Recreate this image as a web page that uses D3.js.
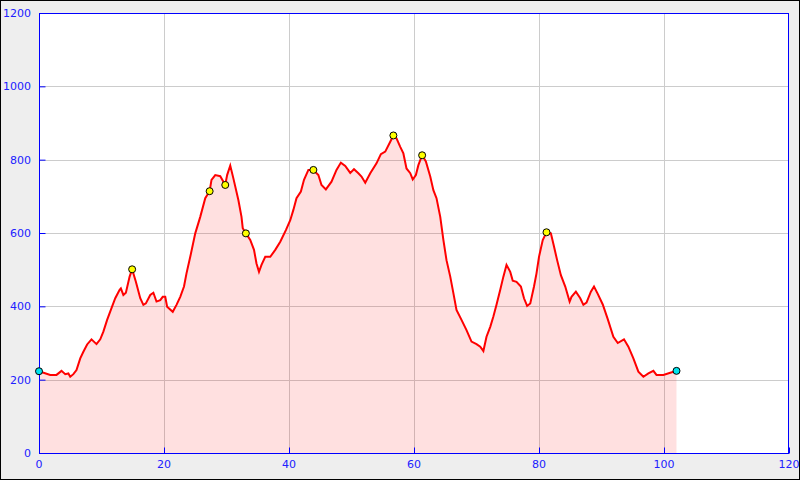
<!DOCTYPE html>
<html>
<head>
<meta charset="utf-8">
<script src="https://cdn.jsdelivr.net/npm/d3@7"></script>
<style>
html,body{margin:0;padding:0;background:#eeeeee;}
svg{display:block;}
</style>
</head>
<body>
<svg id="chart" width="800" height="480"></svg>
<script>
const distance = [0,1.8,2.8,3.6,4.2,4.7,5.0,5.5,6.0,6.6,7.1,7.7,8.4,9.2,9.8,10.3,10.9,11.6,12.2,12.9,13.1,13.5,13.9,14.5,14.9,15.5,16.2,16.7,17.1,17.8,18.3,18.8,19.4,19.8,20.2,20.5,21.4,22.0,22.6,23.2,23.6,24.2,25.0,25.8,26.6,27.3,27.6,28.2,29.0,29.8,30.1,30.6,31.1,31.9,32.4,32.6,33.1,33.8,34.4,34.8,35.2,35.6,36.2,37.0,37.8,38.6,39.5,40.2,40.7,41.2,41.9,42.4,43.1,43.9,44.7,45.2,45.9,46.8,47.6,48.3,49.0,49.8,50.4,51.1,51.6,52.2,53.0,54.0,54.7,55.4,56.2,56.7,57.2,57.8,58.3,58.8,59.4,59.8,60.3,60.7,61.3,61.9,62.6,63.1,63.6,64.2,64.7,65.2,65.8,66.3,66.8,67.6,68.4,69.2,70.0,70.6,71.1,71.6,72.2,72.7,73.2,73.8,74.3,74.8,75.4,75.8,76.4,77.1,77.6,78.1,78.6,79.2,79.6,80.0,80.6,81.2,81.9,82.4,82.9,83.5,84.2,84.9,85.2,85.9,86.6,87.1,87.6,88.3,88.8,89.4,90.2,91.0,91.9,92.6,93.6,94.3,95.1,95.9,96.7,97.5,98.3,98.8,99.9,101.0,102.0];
const elevation = [223,213,213,224,215,217,208,215,226,258,276,296,310,297,310,331,363,395,422,445,449,431,437,481,501,467,422,404,408,431,437,413,417,426,426,399,385,404,426,454,490,535,599,644,695,714,745,758,755,731,758,784,749,690,644,613,599,581,554,517,494,513,535,535,554,576,608,635,663,695,713,745,772,772,758,731,719,740,772,792,783,764,774,763,754,737,763,790,815,822,849,866,858,835,817,776,763,746,758,785,812,795,754,717,695,644,581,526,481,436,390,363,335,304,297,290,278,317,344,372,404,445,481,513,494,470,467,454,422,401,408,454,490,535,581,602,599,563,526,485,454,413,426,440,422,404,410,440,454,434,405,365,317,300,310,290,258,222,208,217,224,213,213,219,224];
const waypointDist = [14.9,27.3,29.8,33.1,43.9,56.7,61.3,81.2];
const waypointElev = [501,714,731,599,772,866,812,602];
const endpointDist = [0,102.0];
const endpointElev = [223,224];
const xTicks = [0,20,40,60,80,100,120];
const yTicks = [0,200,400,600,800,1000,1200];

const svg = d3.select('#chart');
const W = 800, H = 480;
const L = 39, R = 789, T = 13, B = 453;
svg.append('rect').attr('x',0.5).attr('y',0.5).attr('width',W-1).attr('height',H-1)
  .attr('fill','#eeeeee').attr('stroke','#000').attr('stroke-width',1);
const x = d3.scaleLinear().domain([0,120]).range([L,R]);
const y = d3.scaleLinear().domain([0,1200]).range([B,T]);
svg.append('rect').attr('x',L).attr('y',T).attr('width',R-L).attr('height',B-T).attr('fill','#fff');

// grid
const g = svg.append('g');
g.selectAll('.vg').data(xTicks.filter(t=>t>0&&t<120)).join('line')
  .attr('x1',d=>Math.round(x(d))+0.5).attr('x2',d=>Math.round(x(d))+0.5)
  .attr('y1',T).attr('y2',B).attr('stroke','#cccccc').attr('stroke-width',1);
g.selectAll('.hg').data(yTicks.filter(t=>t>0&&t<1200)).join('line')
  .attr('y1',d=>Math.round(y(d))+0.5).attr('y2',d=>Math.round(y(d))+0.5)
  .attr('x1',L).attr('x2',R).attr('stroke','#cccccc').attr('stroke-width',1);

const pts = distance.map((d,i)=>[d,elevation[i]]);
const area = d3.area().x(d=>x(d[0])).y0(y(0)).y1(d=>y(d[1]));
svg.append('path').datum(pts).attr('d',area).attr('fill','rgba(255,0,0,0.12)');
const line = d3.line().x(d=>x(d[0])).y(d=>y(d[1]));
svg.append('path').datum(pts).attr('d',line).attr('fill','none')
  .attr('stroke','#ff0000').attr('stroke-width',2).attr('stroke-linejoin','miter');

// frame
svg.append('rect').attr('x',L+0.5).attr('y',T+0.5).attr('width',R-L-1).attr('height',B-T)
  .attr('fill','none').attr('stroke','#0000ff').attr('stroke-width',1);

// axes
const yAxis = d3.axisRight(y).tickValues(yTicks).tickSize(6).tickFormat('');
const ya = svg.append('g').attr('transform',`translate(${L+0.5},0)`).call(yAxis);
ya.select('.domain').remove();
ya.selectAll('line').attr('stroke','#0000ff');
const xAxis = d3.axisTop(x).tickValues(xTicks).tickSize(6).tickFormat('');
const xa = svg.append('g').attr('transform',`translate(0,${B+0.5})`).call(xAxis);
xa.select('.domain').remove();
xa.selectAll('line').attr('stroke','#0000ff');

svg.selectAll('.ylab').data(yTicks).join('text')
  .attr('x',31).attr('y',d=>y(d)+4).attr('text-anchor','end')
  .attr('font-family','DejaVu Sans').attr('font-size',11).attr('fill','#2020ff').text(d=>d);
svg.selectAll('.xlab').data(xTicks).join('text')
  .attr('x',d=>x(d)).attr('y',B+15).attr('text-anchor','middle')
  .attr('font-family','DejaVu Sans').attr('font-size',11).attr('fill','#2020ff').text(d=>d);

svg.selectAll('.wp').data(waypointDist.map((d,i)=>[d,waypointElev[i]])).join('circle')
  .attr('cx',d=>x(d[0])).attr('cy',d=>y(d[1])).attr('r',3.5)
  .attr('fill','#ffff00').attr('stroke','#000').attr('stroke-width',1);
svg.selectAll('.ep').data(endpointDist.map((d,i)=>[d,endpointElev[i]])).join('circle')
  .attr('cx',d=>x(d[0])).attr('cy',d=>y(d[1])).attr('r',3.5)
  .attr('fill','#00e5ee').attr('stroke','#000').attr('stroke-width',1);
</script>
</body>
</html>
